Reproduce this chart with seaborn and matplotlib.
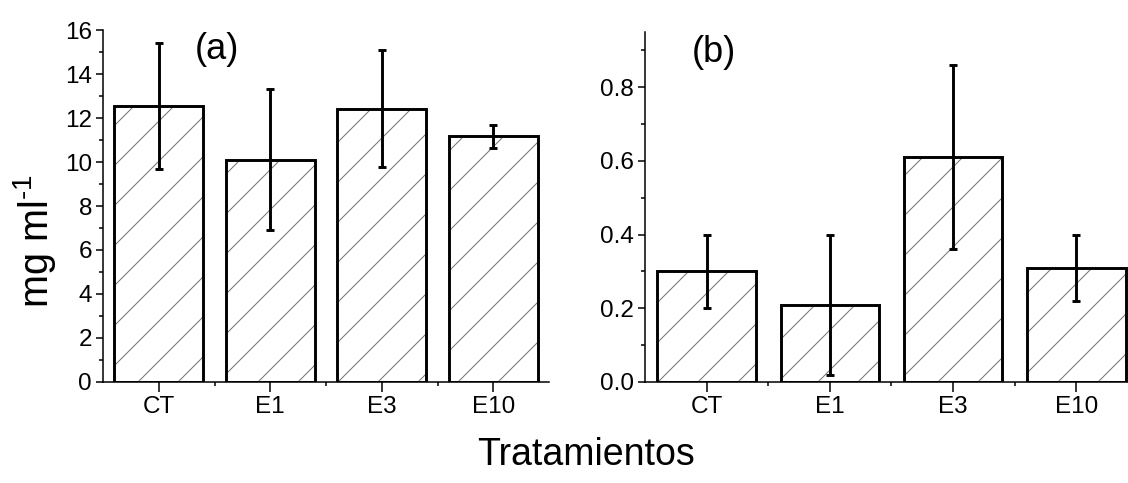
import numpy as np
import pandas as pd
import matplotlib
matplotlib.use("Agg")
import matplotlib.pyplot as plt
from matplotlib.ticker import MultipleLocator, FixedLocator
import seaborn as sns

# Treatments and measured values (mean and error) for both panels
tratamientos = ["CT", "E1", "E3", "E10"]
media_a = [12.53, 10.10, 12.42, 11.16]
error_a = [2.87, 3.20, 2.65, 0.53]
media_b = [0.30, 0.21, 0.61, 0.31]
error_b = [0.10, 0.19, 0.25, 0.09]

DPI = 120
K = 100 / DPI  # sizes below are given in pixels-per-100dpi units

sns.set_theme(style="ticks")
plt.rcParams["font.family"] = ["Liberation Sans", "DejaVu Sans"]
plt.rcParams["mathtext.fontset"] = "custom"
plt.rcParams["mathtext.rm"] = "Liberation Sans"
plt.rcParams["mathtext.it"] = "Liberation Sans:italic"
plt.rcParams["hatch.linewidth"] = 0.7 * K
for key in ("text.color", "axes.labelcolor", "xtick.color", "ytick.color"):
    plt.rcParams[key] = "black"

W, H = 1128, 483
fig = plt.figure(figsize=(W / DPI, H / DPI), dpi=DPI)
ax_a = fig.add_axes([103 / W, 1 - 382 / H, 446 / W, 352 / H])
ax_b = fig.add_axes([645 / W, 1 - 382 / H, 483 / W, 350 / H])


def panel(ax, medias, errores, ylim, major, minor, etiqueta, pos_etiqueta, fmt):
    df = pd.DataFrame({"trat": tratamientos, "valor": medias})
    # hatched fill in grey, then the black outline on top
    sns.barplot(data=df, x="trat", y="valor", ax=ax, width=0.8,
                color="white", edgecolor="#6e6e6e", linewidth=0,
                errorbar=None, saturation=1, hatch="/")
    for p in ax.patches:
        p.set_hatch("/")
        p.set_edgecolor("#6e6e6e")
        p.set_linewidth(0)
    sns.barplot(data=df, x="trat", y="valor", ax=ax, width=0.8, fill=False,
                edgecolor="black", linewidth=2.1 * K, errorbar=None,
                color="black")
    ax.errorbar(np.arange(len(medias)), medias, yerr=errores, fmt="none",
                ecolor="black", elinewidth=2.1 * K, capsize=3.0 * K,
                capthick=2.1 * K, zorder=5)
    ax.set_ylim(*ylim)
    ax.yaxis.set_major_locator(MultipleLocator(major))
    ax.yaxis.set_minor_locator(MultipleLocator(minor))
    ax.yaxis.set_major_formatter(fmt)
    ax.xaxis.set_minor_locator(FixedLocator([0.5, 1.5, 2.5]))
    sns.despine(ax=ax)
    for s in ("left", "bottom"):
        ax.spines[s].set_linewidth(1.1 * K)
        ax.spines[s].set_color("black")
    ax.tick_params(axis="both", which="major", direction="out", length=5 * K,
                   width=1.1 * K, labelsize=17.5 * K, color="black", pad=3 * K)
    ax.tick_params(axis="both", which="minor", direction="out", length=3 * K,
                   width=1.1 * K, color="black")
    ax.tick_params(axis="x", which="major", length=7 * K, pad=3 * K)
    ax.set_xlabel("")
    ax.set_ylabel("")
    ax.text(pos_etiqueta[0], pos_etiqueta[1], etiqueta, fontsize=26 * K,
            ha="center", va="center")


panel(ax_a, media_a, error_a, (0, 16), 2, 1, "(a)", (0.52, 15.1), "{x:.0f}")
ax_a.set_xlim(-0.5, 3.5)
panel(ax_b, media_b, error_b, (0, 0.95), 0.2, 0.1, "(b)", (0.06, 0.894), "{x:.1f}")
ax_b.set_xlim(-0.5, 3.42)

fig.text(35 / W, 1 - 241 / H, r"mg ml$^{\text{-1}}$", rotation=90,
         fontsize=28.5 * K, ha="center", va="center")
fig.text(586 / W, 1 - 455 / H, "Tratamientos", fontsize=27 * K,
         ha="center", va="center")

fig.savefig("out.png", dpi=DPI, facecolor="white")
